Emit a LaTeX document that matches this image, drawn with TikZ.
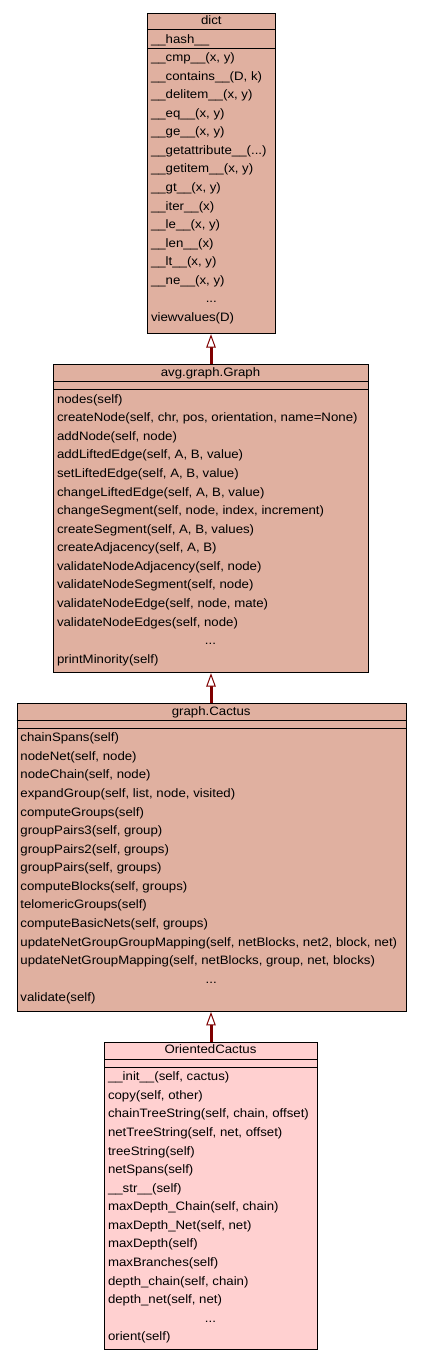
\documentclass[tikz,border=0pt]{standalone}
\usepackage{fontspec}
\setmainfont[FakeStretch=1.085]{Liberation Sans}
\usetikzlibrary{arrows.meta}
\definecolor{salmonfill}{HTML}{E0B0A0}
\definecolor{pinkfill}{HTML}{FFD0D0}
\definecolor{arrowred}{HTML}{7F0000}
\newcommand\umlfont{\fontsize{12.2}{14}\selectfont}
\newcommand\threedots{...}
\tikzset{
  classbox/.style={draw=black, line width=1pt, rectangle, inner sep=0pt, anchor=north west},
  sepline/.style={draw=black, line width=1pt},
  rowtext/.style={anchor=base west, inner sep=0pt, font=\umlfont},
  dotstext/.style={anchor=base, inner sep=0pt, font=\umlfont},
  titletext/.style={anchor=base, inner sep=0pt, font=\umlfont},
  inherit/.style={draw=arrowred, line width=3pt,
    -{Triangle[length=13.4pt, width=9.5pt, line width=1pt, fill=white]}},
}
% #1 prefix, #2 text x, #3 y of second separator, #4 list of rows
\newcommand\methodrows[4]{%
  \foreach \m [count=\i] in {#4} {
    \node[rowtext] (#1\i) at (#2, {#3+13.5+(\i-1)*18.57}) {\m};
  }}
\begin{document}
\begin{tikzpicture}[x=1pt,y=-1pt]
\useasboundingbox (0,0) rectangle (421,1360);

% ---------------- dict ----------------
\node[classbox, fill=salmonfill, minimum width=128pt, minimum height=320.7pt] (dict) at (147.3,12.5) {};
\draw[sepline] (dict.west |- 0,29.3) -- (dict.east |- 0,29.3);
\draw[sepline] (dict.west |- 0,48) -- (dict.east |- 0,48);
\node[titletext] (dictT) at (211.3,24) {dict};
\node[rowtext] (dictA1) at (150.8,43) {\_\_hash\_\_};
\methodrows{dictM}{150.8}{48}{
  {\_\_cmp\_\_(x, y)},
  {\_\_contains\_\_(D, k)},
  {\_\_delitem\_\_(x, y)},
  {\_\_eq\_\_(x, y)},
  {\_\_ge\_\_(x, y)},
  {\_\_getattribute\_\_(\threedots)},
  {\_\_getitem\_\_(x, y)},
  {\_\_gt\_\_(x, y)},
  {\_\_iter\_\_(x)},
  {\_\_le\_\_(x, y)},
  {\_\_len\_\_(x)},
  {\_\_lt\_\_(x, y)},
  {\_\_ne\_\_(x, y)}}
\node[dotstext] (dictDots) at (211.3,{48+13.5+13*18.57}) {...};
\node[rowtext] (dictLast) at (150.8,{48+13.5+14*18.57}) {viewvalues(D)};

% ---------------- avg.graph.Graph ----------------
\node[classbox, fill=salmonfill, minimum width=314.4pt, minimum height=307.9pt] (graph) at (53.3,364.3) {};
\draw[sepline] (graph.west |- 0,381.3) -- (graph.east |- 0,381.3);
\draw[sepline] (graph.west |- 0,389.7) -- (graph.east |- 0,389.7);
\node[titletext] (graphT) at (210.5,376.2) {avg.graph.Graph};
\methodrows{graphM}{56.8}{389.7}{
  {nodes(self)},
  {createNode(self, chr, pos, orientation, name=None)},
  {addNode(self, node)},
  {addLiftedEdge(self, A, B, value)},
  {setLiftedEdge(self, A, B, value)},
  {changeLiftedEdge(self, A, B, value)},
  {changeSegment(self, node, index, increment)},
  {createSegment(self, A, B, values)},
  {createAdjacency(self, A, B)},
  {validateNodeAdjacency(self, node)},
  {validateNodeSegment(self, node)},
  {validateNodeEdge(self, node, mate)},
  {validateNodeEdges(self, node)}}
\node[dotstext] (graphDots) at (210.5,{389.7+13.5+13*18.57}) {...};
\node[rowtext] (graphLast) at (56.8,{389.7+13.5+14*18.57}) {printMinority(self)};

% ---------------- graph.Cactus ----------------
\node[classbox, fill=salmonfill, minimum width=389pt, minimum height=307.7pt] (cactus) at (16.7,703.3) {};
\draw[sepline] (cactus.west |- 0,720.7) -- (cactus.east |- 0,720.7);
\draw[sepline] (cactus.west |- 0,728.3) -- (cactus.east |- 0,728.3);
\node[titletext] (cactusT) at (211.2,715.1) {graph.Cactus};
\methodrows{cactusM}{20.2}{728.3}{
  {chainSpans(self)},
  {nodeNet(self, node)},
  {nodeChain(self, node)},
  {expandGroup(self, list, node, visited)},
  {computeGroups(self)},
  {groupPairs3(self, group)},
  {groupPairs2(self, groups)},
  {groupPairs(self, groups)},
  {computeBlocks(self, groups)},
  {telomericGroups(self)},
  {computeBasicNets(self, groups)},
  {updateNetGroupGroupMapping(self, netBlocks, net2, block, net)},
  {updateNetGroupMapping(self, netBlocks, group, net, blocks)}}
\node[dotstext] (cactusDots) at (211.2,{728.3+13.5+13*18.57}) {...};
\node[rowtext] (cactusLast) at (20.2,{728.3+13.5+14*18.57}) {validate(self)};

% ---------------- OrientedCactus ----------------
\node[classbox, fill=pinkfill, minimum width=212.4pt, minimum height=307pt] (oriented) at (104.3,1041.7) {};
\draw[sepline] (oriented.west |- 0,1059.3) -- (oriented.east |- 0,1059.3);
\draw[sepline] (oriented.west |- 0,1067.3) -- (oriented.east |- 0,1067.3);
\node[titletext] (orientedT) at (210.5,1053.6) {OrientedCactus};
\methodrows{orientedM}{107.8}{1067.3}{
  {\_\_init\_\_(self, cactus)},
  {copy(self, other)},
  {chainTreeString(self, chain, offset)},
  {netTreeString(self, net, offset)},
  {treeString(self)},
  {netSpans(self)},
  {\_\_str\_\_(self)},
  {maxDepth\_Chain(self, chain)},
  {maxDepth\_Net(self, net)},
  {maxDepth(self)},
  {maxBranches(self)},
  {depth\_chain(self, chain)},
  {depth\_net(self, net)}}
\node[dotstext] (orientedDots) at (210.5,{1067.3+13.5+13*18.57}) {...};
\node[rowtext] (orientedLast) at (107.8,{1067.3+13.5+14*18.57}) {orient(self)};

% ---------------- inheritance arrows ----------------
\draw[inherit] (graph.north -| 211,0) -- (dict.south -| 211,0);
\draw[inherit] (cactus.north -| 211,0) -- (graph.south -| 211,0);
\draw[inherit] (oriented.north -| 211,0) -- (cactus.south -| 211,0);
\end{tikzpicture}
\end{document}
